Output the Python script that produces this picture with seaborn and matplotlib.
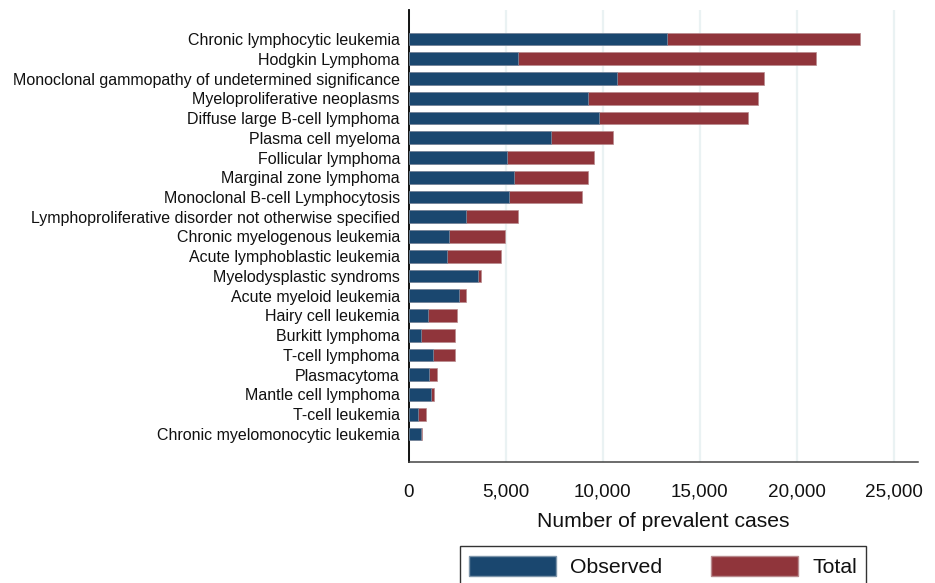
import numpy as np
import pandas as pd
import matplotlib
matplotlib.use("Agg")
import matplotlib.pyplot as plt
from matplotlib.patches import Patch
from matplotlib.ticker import FuncFormatter
import seaborn as sns

# Haematological malignancies, prevalent cases
diseases = [
    "Chronic lymphocytic leukemia",
    "Hodgkin Lymphoma",
    "Monoclonal gammopathy of undetermined significance",
    "Myeloproliferative neoplasms",
    "Diffuse large B-cell lymphoma",
    "Plasma cell myeloma",
    "Follicular lymphoma",
    "Marginal zone lymphoma",
    "Monoclonal B-cell Lymphocytosis",
    "Lymphoproliferative disorder not otherwise specified",
    "Chronic myelogenous leukemia",
    "Acute lymphoblastic leukemia",
    "Myelodysplastic syndroms",
    "Acute myeloid leukemia",
    "Hairy cell leukemia",
    "Burkitt lymphoma",
    "T-cell lymphoma",
    "Plasmacytoma",
    "Mantle cell lymphoma",
    "T-cell leukemia",
    "Chronic myelomonocytic leukemia",
]
observed = [13280, 5610, 10740, 9250, 9820, 7340, 5030, 5390, 5180, 2920,
            2040, 1940, 3540, 2570, 960, 600, 1220, 1050, 1120, 460, 620]
total = [23250, 20970, 18290, 18020, 17470, 10500, 9560, 9230, 8940, 5610,
         4930, 4720, 3720, 2920, 2470, 2370, 2350, 1460, 1270, 860, 670]
ticks = [0, 5000, 10000, 15000, 20000, 25000]

navy = "#1a476f"
maroon = "#90353b"
grid_col = "#eaf2f3"

df = pd.DataFrame({"disease": diseases, "observed": observed, "total": total})

sns.set_style("white")
plt.rcParams["font.family"] = ["Liberation Sans", "DejaVu Sans"]

fig = plt.figure(figsize=(9.35, 5.83), dpi=100)
ax = fig.add_axes([409 / 935, 1 - 462 / 583, (918 - 409) / 935, (462 - 10) / 583])

for x in ticks:
    ax.axvline(x, color=grid_col, lw=1.6, zorder=0)

sns.barplot(data=df, y="disease", x="total", color=maroon, saturation=1,
            width=0.65, edgecolor="#b88a8d", linewidth=0.5, ax=ax, zorder=2)
sns.barplot(data=df, y="disease", x="observed", color=navy, saturation=1,
            width=0.65, edgecolor="#7d95aa", linewidth=0.5, ax=ax, zorder=3)

ax.set_xlim(0, 26250)
ax.set_ylim(len(diseases) - 1 + 1.42, -1.47)
ax.set_xticks(ticks)
ax.xaxis.set_major_formatter(FuncFormatter(lambda v, p: f"{int(v):,}"))
ax.tick_params(axis="x", length=5, width=1, color="#333333", pad=10.5,
               labelsize=13.6, labelcolor="#111111")
ax.tick_params(axis="y", length=0, pad=6.5, labelsize=11.5, labelcolor="#111111")
ax.set_ylabel("")
ax.set_xlabel("Number of prevalent cases", fontsize=15.2, labelpad=8, color="#111111")

for side in ["top", "right"]:
    ax.spines[side].set_visible(False)
ax.spines["left"].set_color("black")
ax.spines["left"].set_linewidth(1.3)
ax.spines["bottom"].set_color("#444444")
ax.spines["bottom"].set_linewidth(1.1)

handles = [Patch(facecolor=navy, edgecolor="#7d95aa", label="Observed"),
           Patch(facecolor=maroon, edgecolor="#b88a8d", label="Total")]
leg = fig.legend(handles=handles, loc="upper center", ncol=2,
                 bbox_to_anchor=(663 / 935, 1 - 546 / 583),
                 fontsize=15.3, frameon=True, fancybox=False,
                 handlelength=4.1, handleheight=1.1, columnspacing=2.3,
                 handletextpad=0.65, borderpad=0.45, borderaxespad=0)
leg.get_frame().set_edgecolor("black")
leg.get_frame().set_linewidth(1.0)
for t in leg.get_texts():
    t.set_color("#111111")

fig.savefig("out.png", dpi=100)
